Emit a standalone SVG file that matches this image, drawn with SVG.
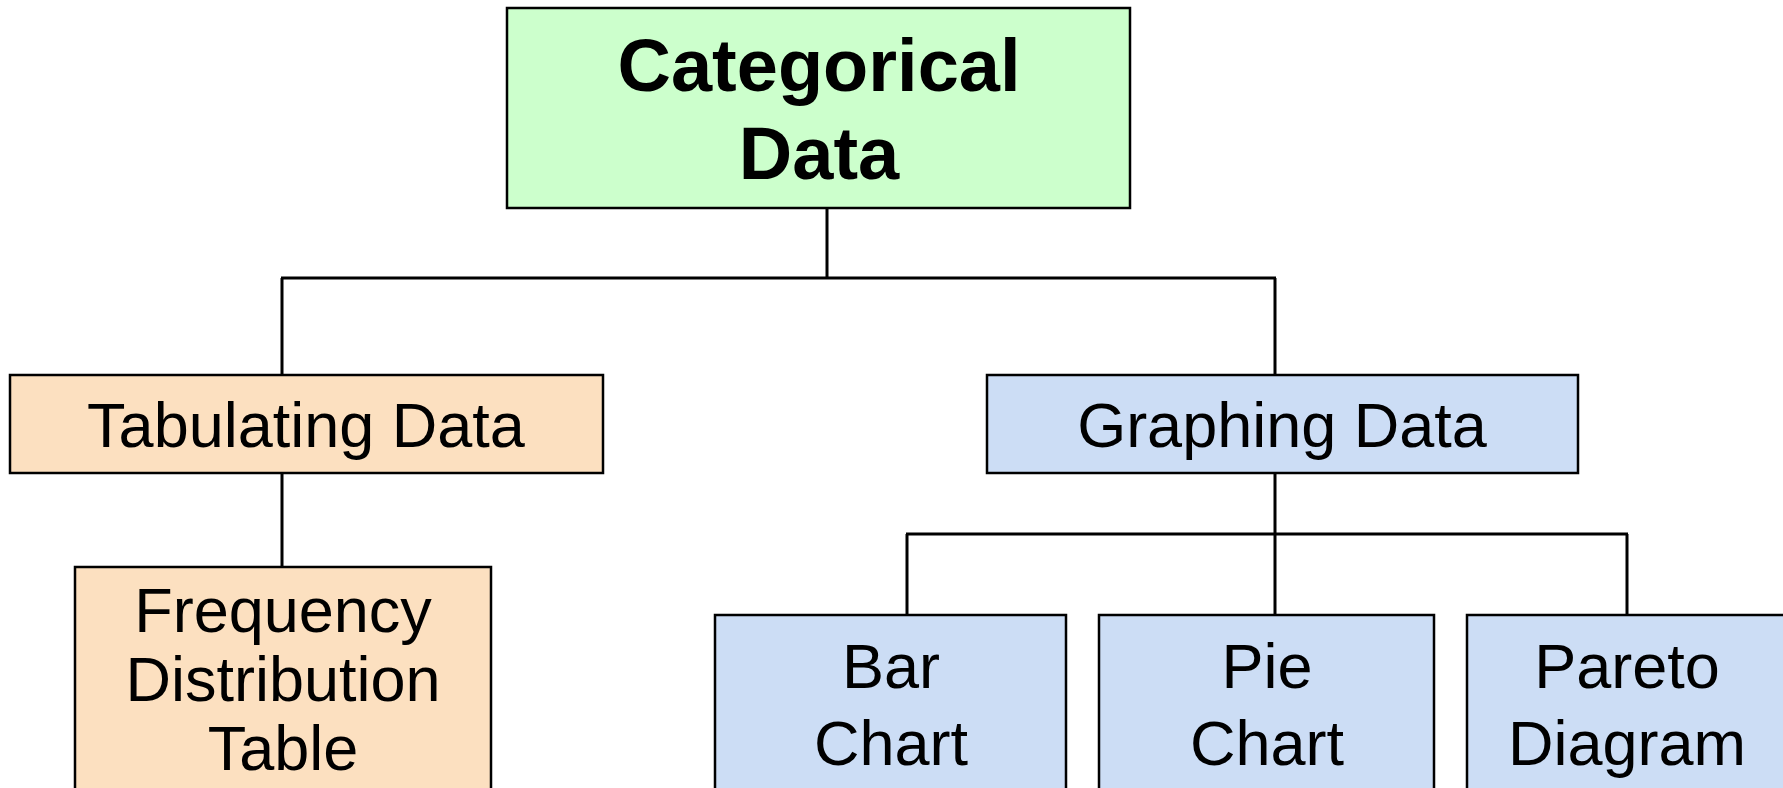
<svg xmlns="http://www.w3.org/2000/svg" width="1783" height="788" viewBox="0 0 1783 788">
<style>
.box{stroke:#000;stroke-width:2.5}
.green{fill:#CCFFCC}
.peach{fill:#FCE0C0}
.blue{fill:#CCDDF5}
.t{font-family:"Liberation Sans",Arial,sans-serif;font-size:63px;fill:#000;text-anchor:middle}
.b{font-weight:bold;font-size:74px}
.conn{stroke:#000;stroke-width:3;fill:none}
</style>
<rect width="1783" height="788" fill="#fff"/>
<g id="connectors">
<path class="conn" d="M827 208V278M281 278H1276M282 278V375M1275 278V375M282 473V567M1275 473V615M906 534H1628M907 534V615M1627 534V615"/>
</g>
<g id="categorical">
<rect class="box green" x="507" y="8" width="623" height="200"/>
<text class="t b" x="819" y="91">Categorical</text>
<text class="t b" x="819" y="179">Data</text>
</g>
<g id="tabulating">
<rect class="box peach" x="10" y="375" width="593" height="98"/>
<text class="t" x="306" y="447">Tabulating Data</text>
</g>
<g id="graphing">
<rect class="box blue" x="987" y="375" width="591" height="98"/>
<text class="t" x="1282" y="447">Graphing Data</text>
</g>
<g id="frequency">
<rect class="box peach" x="75" y="567" width="416" height="240"/>
<text class="t" x="283" y="632">Frequency</text>
<text class="t" x="283" y="701">Distribution</text>
<text class="t" x="283" y="770">Table</text>
</g>
<g id="bar">
<rect class="box blue" x="715" y="615" width="351" height="200"/>
<text class="t" x="891" y="688">Bar</text>
<text class="t" x="891" y="765">Chart</text>
</g>
<g id="pie">
<rect class="box blue" x="1099" y="615" width="335" height="200"/>
<text class="t" x="1267" y="688">Pie</text>
<text class="t" x="1267" y="765">Chart</text>
</g>
<g id="pareto">
<rect class="box blue" x="1467" y="615" width="330" height="200"/>
<text class="t" x="1627" y="688">Pareto</text>
<text class="t" x="1627" y="765">Diagram</text>
</g>
</svg>
